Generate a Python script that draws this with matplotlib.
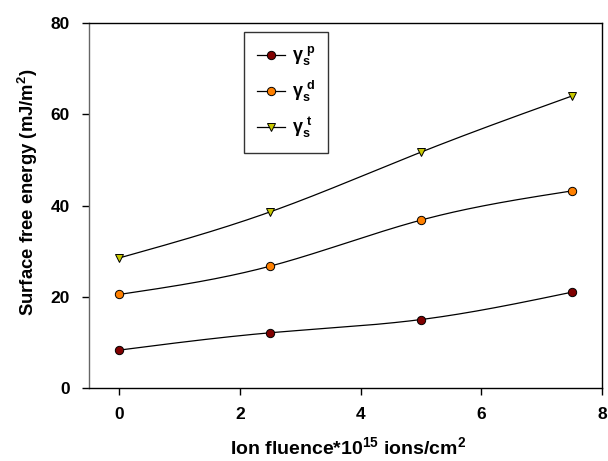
import numpy as np
import matplotlib
matplotlib.use("Agg")
import matplotlib.pyplot as plt

plt.rcParams['font.family'] = ['Liberation Sans', 'DejaVu Sans']
plt.rcParams['font.weight'] = 'bold'
plt.rcParams['mathtext.fontset'] = 'custom'
plt.rcParams['mathtext.rm'] = 'Liberation Sans:bold'
plt.rcParams['mathtext.it'] = 'Liberation Sans:bold'
plt.rcParams['mathtext.bf'] = 'Liberation Sans:bold'

# data
fluence = [0, 2.5, 5, 7.5]
gamma_p = [8.3, 12.1, 15.0, 21.0]
gamma_d = [20.5, 26.7, 36.8, 43.2]
gamma_t = [28.5, 38.6, 51.7, 64.0]


def smooth(x, y, n=200):
    # natural cubic spline through the points, only for drawing the curve
    x = np.asarray(x, float)
    y = np.asarray(y, float)
    k = len(x)
    h = np.diff(x)
    A = np.zeros((k, k))
    b = np.zeros(k)
    A[0, 0] = A[-1, -1] = 1
    for i in range(1, k - 1):
        A[i, i - 1] = h[i - 1]
        A[i, i] = 2 * (h[i - 1] + h[i])
        A[i, i + 1] = h[i]
        b[i] = 6 * ((y[i + 1] - y[i]) / h[i] - (y[i] - y[i - 1]) / h[i - 1])
    M = np.linalg.solve(A, b)
    xs = np.linspace(x[0], x[-1], n)
    ys = np.empty_like(xs)
    for j, t in enumerate(xs):
        i = min(np.searchsorted(x, t, side='right') - 1, k - 2)
        a, c = x[i], x[i + 1]
        hh = c - a
        ys[j] = (M[i] * (c - t) ** 3 / (6 * hh) + M[i + 1] * (t - a) ** 3 / (6 * hh)
                 + (y[i] / hh - M[i] * hh / 6) * (c - t)
                 + (y[i + 1] / hh - M[i + 1] * hh / 6) * (t - a))
    return xs, ys


fig = plt.figure(figsize=(6.08, 4.61), dpi=100)
ax = fig.add_axes([0.1464, 0.1584, 0.8438, 0.7916])

series = [
    (gamma_p, 'o', '#800000', r'$\gamma_s^{\ p}$'),
    (gamma_d, 'o', '#ff8000', r'$\gamma_s^{\ d}$'),
    (gamma_t, 'v', '#c8c800', r'$\gamma_s^{\ t}$'),
]
for vals, mk, col, lab in series:
    xs, ys = smooth(fluence, vals)
    ax.plot(xs, ys, color='black', lw=0.9)
    ax.plot(fluence, vals, ls='none', marker=mk, ms=6, mfc=col, mec='black', mew=0.7)
    ax.plot([], [], color='black', lw=0.9, marker=mk, ms=6, mfc=col, mec='black',
            mew=0.7, label=lab)

ax.set_xlim(-0.5, 8)
ax.set_ylim(0, 80)
ax.set_xticks([0, 2, 4, 6, 8])
ax.set_yticks([0, 20, 40, 60, 80])
ax.tick_params(labelsize=12.5, direction='out', length=5, width=1, pad=9)
for lbl in ax.get_xticklabels() + ax.get_yticklabels():
    lbl.set_fontweight('bold')
for sp in ax.spines.values():
    sp.set_linewidth(1)
ax.spines['left'].set_color('#666666')

ax.set_xlabel(r'Ion fluence*10$^{15}$ ions/cm$^2$', fontsize=14, fontweight='bold')
ax.set_ylabel(r'Surface free energy (mJ/m$^2$)', fontsize=13.3, fontweight='bold')
# label positions in figure pixels
ax.xaxis.set_label_coords((348 - 89) / 513, -(436 - 388) / 365)
ax.yaxis.set_label_coords(-(89 - 40) / 513, (388 - 192) / 365)

leg = ax.legend(loc='upper left', bbox_to_anchor=(0.302, 0.975), borderaxespad=0,
                fontsize=13, frameon=True, fancybox=False, edgecolor='black',
                handlelength=1.55, labelspacing=0.62, borderpad=0.7,
                handletextpad=0.4)
leg.get_frame().set_linewidth(1)

plt.savefig('out.png', dpi=100)
